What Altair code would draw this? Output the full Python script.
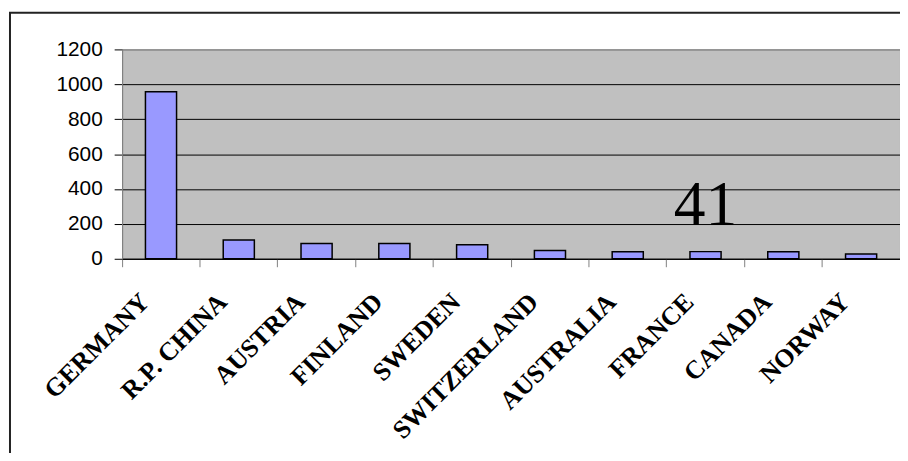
import altair as alt
import pandas as pd

countries = ["GERMANY", "R.P. CHINA", "AUSTRIA", "FINLAND", "SWEDEN",
             "SWITZERLAND", "AUSTRALIA", "FRANCE", "CANADA", "NORWAY"]
values = [958, 108, 87, 87, 80, 48, 40, 41, 40, 27]

ann_country = ["FRANCE"]
ann_y = [195]
ann_text = ["41"]

y_ticks = [0, 200, 400, 600, 800, 1000, 1200]

df = pd.DataFrame({"country": countries, "value": values})
ann = pd.DataFrame({"country": ann_country, "value": ann_y, "text": ann_text})

STEP = 78.4
W = STEP * len(countries)
H = 211

x_enc = alt.X(
    "country:N", sort=countries, title=None,
    scale=alt.Scale(paddingInner=0, paddingOuter=0),
    axis=alt.Axis(
        bandPosition=0, labelAngle=-45, labelAlign="right", labelBaseline="middle",
        labelFont="Liberation Serif", labelFontWeight="bold", labelFontSize=26,
        labelColor="black", labelOffset=-16, labelPadding=31, labelOverlap=False,
        labelLimit=0, labelFlush=False, tickSize=8, tickColor="#808080",
        domainColor="black", grid=False,
    ),
)
y_enc = alt.Y(
    "value:Q", title=None,
    scale=alt.Scale(domain=[0, 1200], nice=False),
    axis=alt.Axis(
        values=y_ticks, format="d", labelOverlap=False,
        labelFont="Liberation Sans", labelFontSize=21,
        labelColor="black", labelPadding=12, tickSize=8, tickColor="black",
        domainColor="#808080",
        gridColor=alt.condition("datum.value == 1200", alt.value("#808080"), alt.value("black")),
        gridWidth=1, gridOpacity=1,
    ),
)

border = alt.Chart(pd.DataFrame({"a": [0]})).mark_rect(
    fillOpacity=0, stroke="#222222", strokeWidth=2, clip=False
).encode(
    x=alt.value(-113), x2=alt.value(W + 200), y=alt.value(-37), y2=alt.value(H + 400)
)

bars = alt.Chart(df).mark_bar(
    color="#9999FF", stroke="black", strokeWidth=1.5,
    width=alt.RelativeBandSize(0.4),
).encode(x=x_enc, y=y_enc)

text = alt.Chart(ann).mark_text(
    font="Liberation Serif", fontSize=64, baseline="alphabetic", align="center", color="black"
).encode(
    x=x_enc,
    y=y_enc,
    text="text:N",
)

chart = alt.layer(border, bars, text).properties(
    width=W, height=H,
    autosize=alt.AutoSizeParams(type="none"),
    padding={"left": 115, "top": 40, "right": 0, "bottom": 194},
    background="white",
).configure_view(
    fill="#C0C0C0", stroke="#808080", strokeWidth=1
)

chart.save("out.html", embed_options={"renderer": "svg", "actions": False})
